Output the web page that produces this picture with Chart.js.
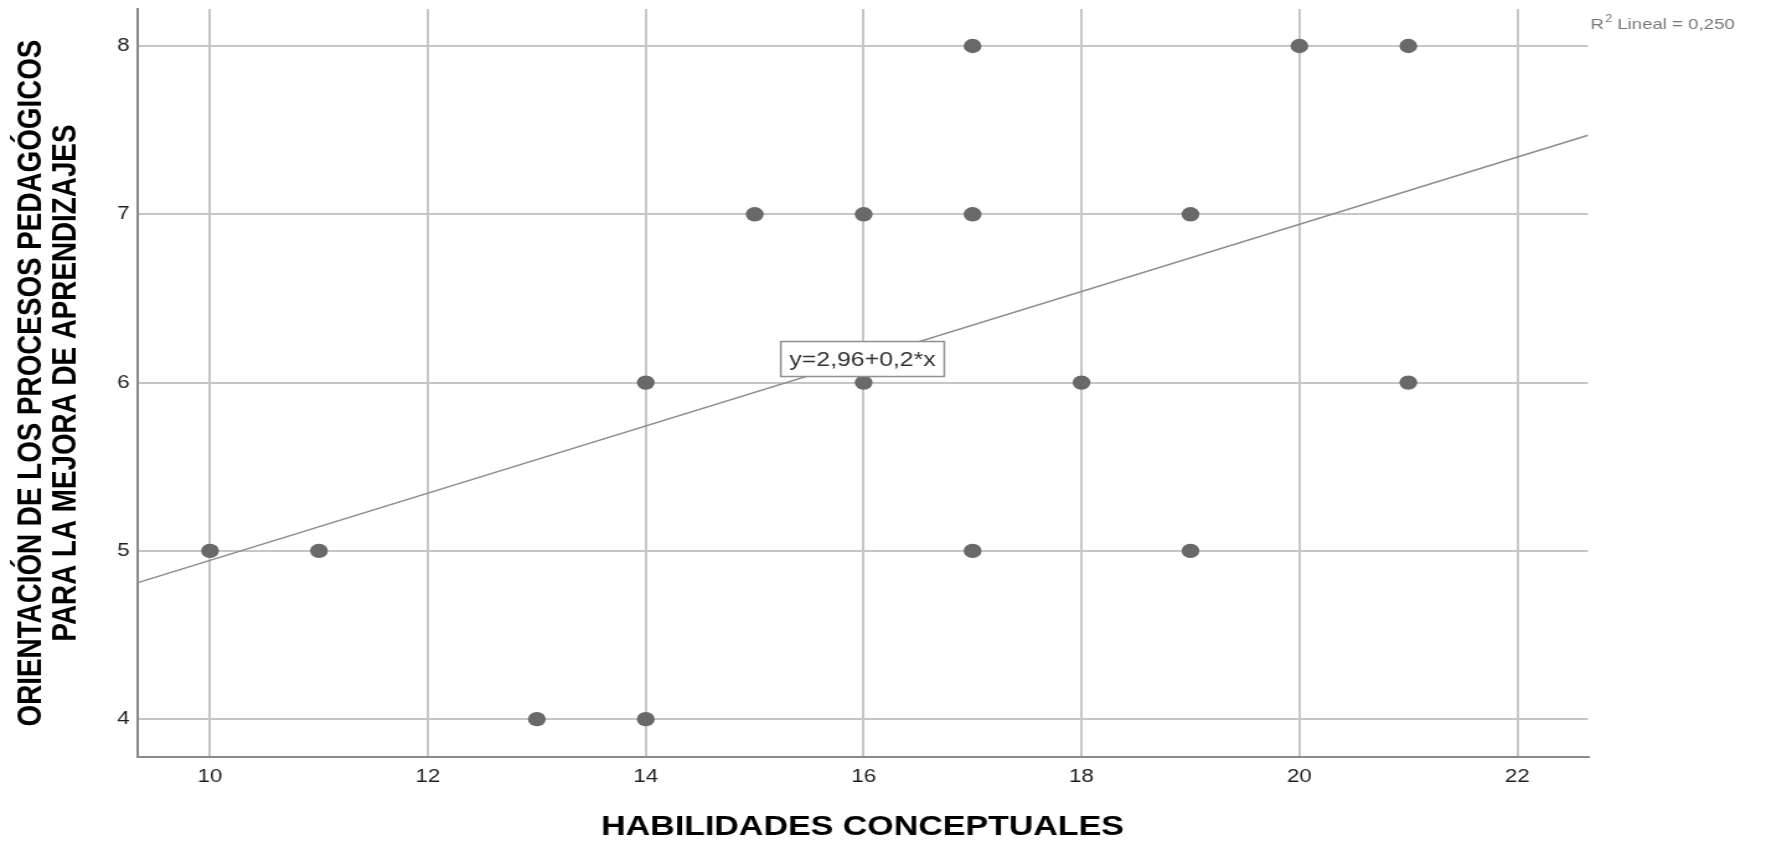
<!DOCTYPE html>
<html>
<head>
<meta charset="utf-8">
<script src="https://cdn.jsdelivr.net/npm/chart.js@4/dist/chart.umd.min.js"></script>
<style>
  html, body { margin: 0; padding: 0; background: #fff; overflow: hidden; }
  /* the reference is a horizontally stretched SPSS export, so stretch the canvas the same way */
  #c { transform: scaleX(1.2401); transform-origin: 0 0; display: block; }
</style>
</head>
<body>
<canvas id="c" width="1437" height="843"></canvas>
<script>
const xValues = [10, 11, 13, 14, 14, 15, 16, 16, 17, 17, 17, 18, 19, 19, 20, 21, 21];
const yValues = [5, 5, 4, 4, 6, 7, 7, 6, 8, 7, 5, 6, 7, 5, 8, 8, 6];

const xTicks = [10, 12, 14, 16, 18, 20, 22];
const yTicks = [4, 5, 6, 7, 8];
const xRange = [9.33, 22.65];
const yRange = [3.775, 8.22];

// fit line ends, read at the plot edges
const fitX = [9.33, 22.65];
const fitY = [4.81, 7.47];
const equationText = 'y=2,96+0,2*x';
const r2Text = ' Lineal = 0,250';

const xTitle = 'HABILIDADES CONCEPTUALES';
const yTitle = ['ORIENTACIÓN DE LOS PROCESOS PEDAGÓGICOS', 'PARA LA MEJORA DE APRENDIZAJES'];

const points = xValues.map((x, i) => ({x: x, y: yValues[i]}));
const fitPoints = fitX.map((x, i) => ({x: x, y: fitY[i]}));

const font = '"Liberation Sans", Arial, sans-serif';

const notes = {
  id: 'notes',
  afterDatasetsDraw(chart) {
    const {ctx, chartArea, scales: {x, y}} = chart;
    const cx = x.getPixelForValue((fitX[0] + fitX[1]) / 2);
    const cy = y.getPixelForValue((fitY[0] + fitY[1]) / 2);
    ctx.save();
    ctx.font = '20px ' + font;
    const w = ctx.measureText(equationText).width + 14;
    const h = 35;
    ctx.fillStyle = '#fff';
    ctx.fillRect(cx - w / 2, cy - h / 2, w, h);
    ctx.strokeStyle = '#8f8f8f';
    ctx.lineWidth = 1.5;
    ctx.strokeRect(cx - w / 2, cy - h / 2, w, h);
    ctx.fillStyle = '#333';
    ctx.textAlign = 'center';
    ctx.textBaseline = 'middle';
    ctx.fillText(equationText, cx, cy + 1);

    // R2 note, top right
    ctx.fillStyle = '#777';
    ctx.textAlign = 'left';
    ctx.textBaseline = 'alphabetic';
    let tx = chartArea.right + 2;
    const ty = 29;
    ctx.font = '15px ' + font;
    ctx.fillText('R', tx, ty);
    tx += ctx.measureText('R').width + 1;
    ctx.font = '10px ' + font;
    ctx.fillText('2', tx, ty - 7);
    tx += ctx.measureText('2').width;
    ctx.font = '15px ' + font;
    ctx.fillText(r2Text, tx, ty);
    ctx.restore();
  }
};

new Chart(document.getElementById('c'), {
  type: 'scatter',
  data: {
    datasets: [
      {
        data: points,
        backgroundColor: '#696969',
        borderWidth: 0,
        pointRadius: 7.2,
        pointHoverRadius: 7.2
      },
      {
        type: 'line',
        data: fitPoints,
        borderColor: '#8c8c8c',
        borderWidth: 1.5,
        pointRadius: 0,
        fill: false
      }
    ]
  },
  options: {
    responsive: false,
    animation: false,
    events: [],
    layout: { padding: { left: 0, top: 9, right: 156.4, bottom: 0 } },
    plugins: { legend: { display: false }, tooltip: { enabled: false } },
    scales: {
      x: {
        type: 'linear',
        min: xRange[0],
        max: xRange[1],
        afterBuildTicks: (s) => { s.ticks = xTicks.map(v => ({value: v})); },
        afterFit: (s) => { s.height = 86; s.paddingLeft = 0; s.paddingRight = 0; },
        grid: { color: '#c6c6c6', lineWidth: 2, drawTicks: false },
        border: { color: '#8a8a8a', width: 2 },
        ticks: { color: '#1e1e1e', padding: 9, font: { family: font, size: 18 } },
        title: {
          display: true,
          text: xTitle,
          color: '#000',
          padding: { top: 0, bottom: 2 },
          font: { family: font, size: 27.4, weight: 'bold', lineHeight: 1 }
        }
      },
      y: {
        type: 'linear',
        min: yRange[0],
        max: yRange[1],
        afterBuildTicks: (s) => { s.ticks = yTicks.map(v => ({value: v})); },
        afterFit: (s) => { s.width = 110.5; s.paddingTop = 0; s.paddingBottom = 0; },
        grid: { color: '#c6c6c6', lineWidth: 2, drawTicks: false },
        border: { color: '#8a8a8a', width: 2 },
        ticks: { color: '#1e1e1e', padding: 6, font: { family: font, size: 18 } },
        title: {
          display: true,
          text: yTitle,
          color: '#000',
          padding: { top: 12, bottom: 0 },
          font: { family: font, size: 27.8, weight: 'bold', lineHeight: 0.99 }
        }
      }
    }
  },
  plugins: [notes]
});
</script>
</body>
</html>
